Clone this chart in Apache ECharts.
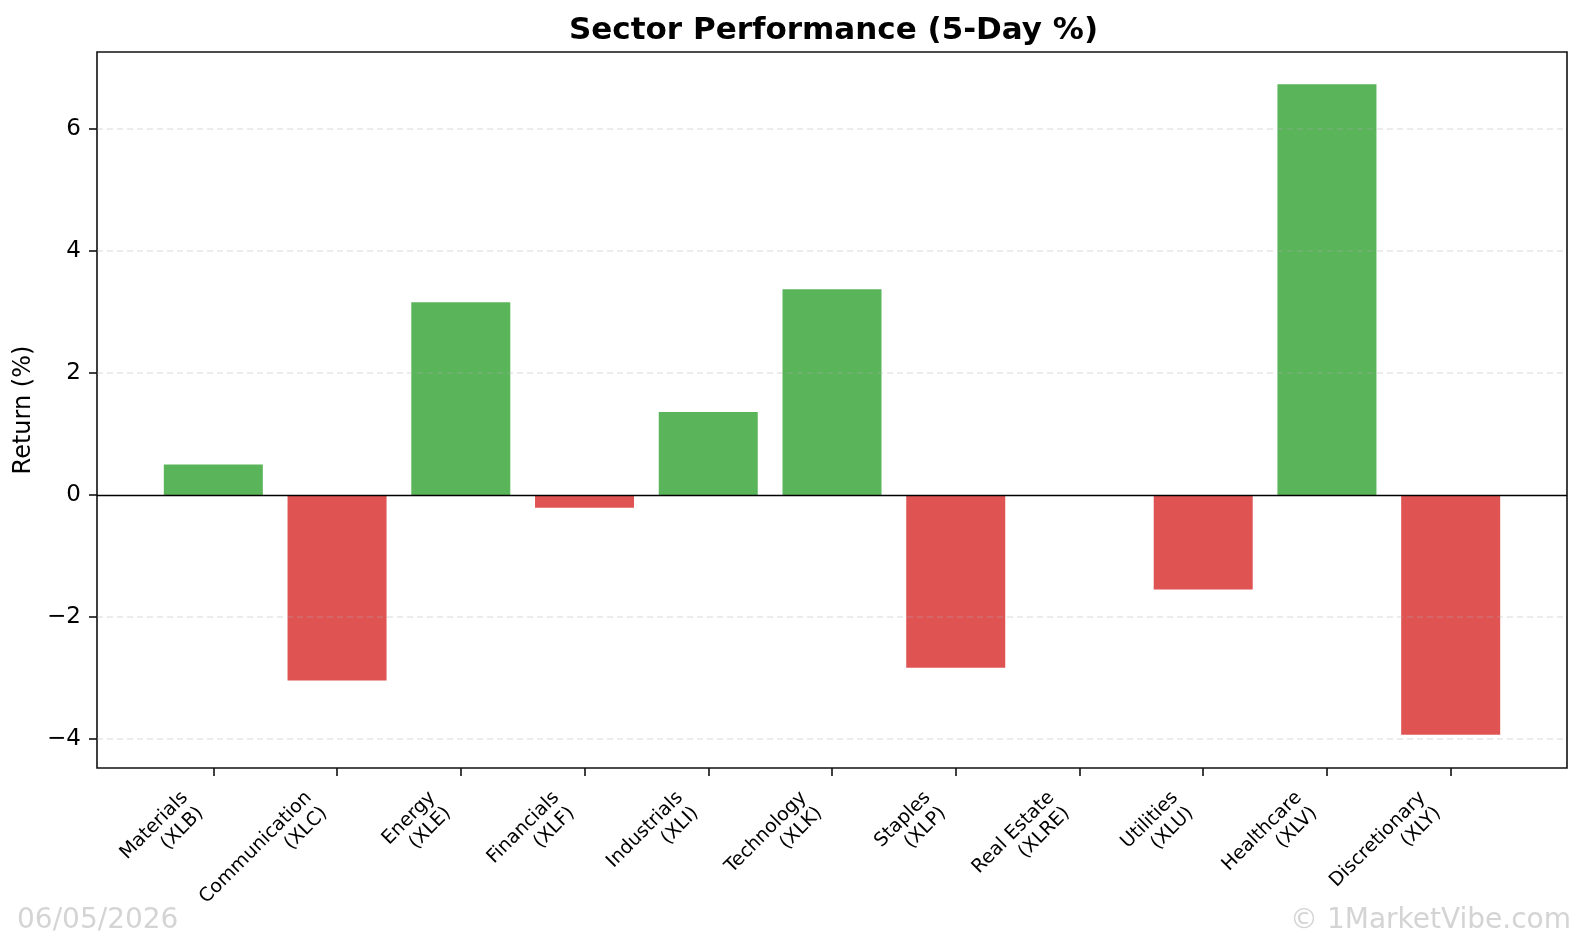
<!DOCTYPE html>
<html lang="en">
<head>
    <meta charset="utf-8" />
    <title>Sector Performance</title>
    <script type="text/javascript" src="https://cdn.jsdelivr.net/npm/echarts@6/dist/echarts.min.js"></script>
    <style type="text/css">
        html, body { margin: 0; padding: 0; background: #fff; }
    </style>
</head>
<body>
    <div id="main" style="width:1584px;height:940px;"></div>

    <script type="text/javascript">
        // sector names + tickers (x axis)
        var sectors = ['Materials', 'Communication', 'Energy', 'Financials', 'Industrials', 'Technology',
            'Staples', 'Real Estate', 'Utilities', 'Healthcare', 'Discretionary'];
        var tickers = ['XLB', 'XLC', 'XLE', 'XLF', 'XLI', 'XLK', 'XLP', 'XLRE', 'XLU', 'XLV', 'XLY'];
        // 5-day return in %
        var returns = [0.50, -3.04, 3.16, -0.21, 1.36, 3.37, -2.83, 0.0, -1.55, 6.73, -3.93];
        var yTicks = [-4, -2, 0, 2, 4, 6];

        var GREEN = '#5ab55a';
        var RED = '#e05353';
        var FONT = 'DejaVu Sans';

        var xIdx = [];
        var barData = [];
        for (var i = 0; i < sectors.length; i++) {
            xIdx.push(i);
            barData.push({
                value: [i, returns[i]],
                itemStyle: { color: returns[i] >= 0 ? GREEN : RED }
            });
        }

        // dashed grid drawn over the bars, solid line at zero
        var refLines = [];
        yTicks.forEach(function (t) {
            if (t !== 0) {
                refLines.push({ yAxis: t, lineStyle: { color: 'rgba(176,176,176,0.3)', type: [6, 4], width: 1.6 } });
            }
        });
        refLines.push({ yAxis: 0, lineStyle: { color: '#000', type: 'solid', width: 1.4 } });

        var myChart = echarts.init(document.getElementById('main'));

        var option = {
            animation: false,
            textStyle: { fontFamily: FONT },
            title: {
                text: 'Sector Performance (5-Day %)',
                left: 564,
                top: 10,
                textStyle: { fontFamily: FONT, fontSize: 31, fontWeight: 'bold', color: '#000' }
            },
            grid: {
                left: 97,
                right: 17,
                top: 52,
                bottom: 172,
                show: true,
                borderColor: '#111',
                borderWidth: 1.6,
                backgroundColor: 'transparent'
            },
            xAxis: {
                type: 'value',
                min: -0.94,
                max: 10.94,
                splitLine: { show: false },
                axisLine: { show: false, onZero: false },
                axisTick: {
                    show: true,
                    customValues: xIdx,
                    length: 8,
                    lineStyle: { color: '#111', width: 1.6 }
                },
                axisLabel: {
                    customValues: xIdx,
                    rotate: 45,
                    margin: 14,
                    fontSize: 19,
                    lineHeight: 22,
                    padding: [0, 29, 0, 0],
                    color: '#000',
                    fontFamily: FONT,
                    formatter: function (v) {
                        return sectors[v] + '\n(' + tickers[v] + ')';
                    }
                }
            },
            yAxis: {
                type: 'value',
                min: -4.475,
                max: 7.26,
                name: 'Return (%)',
                nameLocation: 'middle',
                nameGap: 54,
                nameTextStyle: { fontSize: 24, color: '#000', fontFamily: FONT },
                splitLine: { show: false },
                axisLine: { show: false, onZero: false },
                axisTick: {
                    show: true,
                    customValues: yTicks,
                    length: 8,
                    lineStyle: { color: '#111', width: 1.6 }
                },
                axisLabel: {
                    customValues: yTicks,
                    margin: 16,
                    fontSize: 23,
                    color: '#000',
                    fontFamily: FONT,
                    formatter: function (v) {
                        return v < 0 ? '\u2212' + Math.abs(v) : String(v);
                    }
                }
            },
            series: [{
                type: 'bar',
                data: barData,
                barWidth: 99,
                z: 2,
                markLine: {
                    silent: true,
                    symbol: 'none',
                    label: { show: false },
                    z: 5,
                    data: refLines
                }
            }],
            graphic: [{
                type: 'text',
                left: 17,
                top: 907,
                style: {
                    text: '06/05/2026',
                    fontFamily: FONT,
                    fontSize: 28,
                    fill: '#d4d4d4',
                    textShadowColor: '#999',
                    textShadowOffsetX: 1,
                    textShadowOffsetY: 1,
                    textShadowBlur: 0
                }
            }, {
                type: 'text',
                right: 13,
                top: 907,
                style: {
                    text: '\u00a9 1MarketVibe.com',
                    fontFamily: FONT,
                    fontSize: 28,
                    fill: '#d4d4d4',
                    textShadowColor: '#999',
                    textShadowOffsetX: 1,
                    textShadowOffsetY: 1,
                    textShadowBlur: 0
                }
            }]
        };
        myChart.setOption(option, true);
    </script>
</body>
</html>
